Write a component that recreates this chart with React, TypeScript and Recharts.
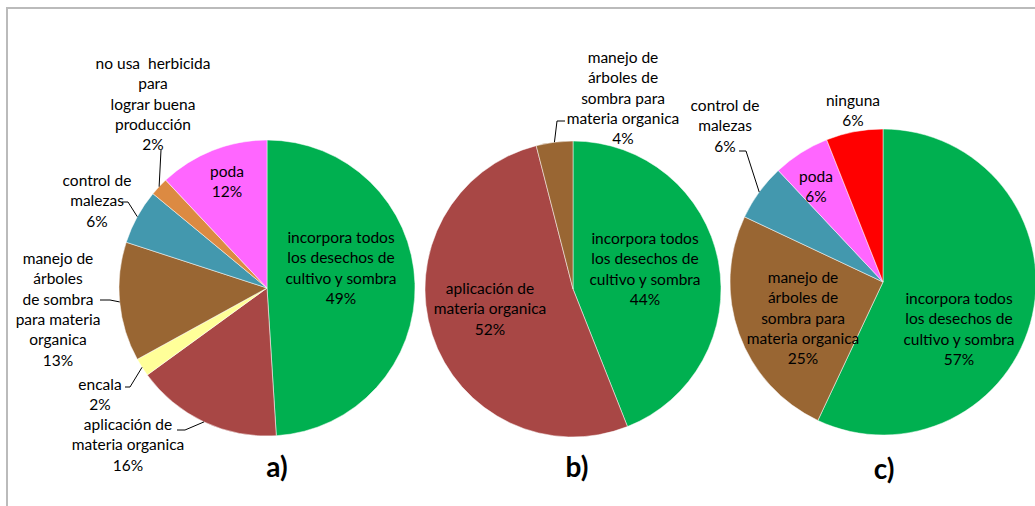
import React from 'react';
import { PieChart, Pie, Cell } from 'recharts';

// a) practicas (clockwise from 12 o'clock)
const catsA = [
  'incorpora todos los desechos de cultivo y sombra',
  'aplicación de materia organica',
  'encala',
  'manejo de árboles de sombra para materia organica',
  'control de malezas',
  'no usa herbicida para lograr buena producción',
  'poda',
];
const valuesA = [49, 16, 2, 13, 6, 2, 12];
const linesA = [
  ['incorpora todos', 'los desechos de', 'cultivo y sombra'],
  ['aplicación de', 'materia organica'],
  ['encala'],
  ['manejo de', 'árboles', 'de sombra', 'para materia', 'organica'],
  ['control de', 'malezas'],
  ['no usa  herbicida', 'para', 'lograr buena', 'producción'],
  ['poda'],
];

// b)
const catsB = [
  'incorpora todos los desechos de cultivo y sombra',
  'aplicación de materia organica',
  'manejo de árboles de sombra para materia organica',
];
const valuesB = [44, 52, 4];
const linesB = [
  ['incorpora todos', 'los desechos de', 'cultivo y sombra'],
  ['aplicación de', 'materia organica'],
  ['manejo de', 'árboles de', 'sombra para', 'materia organica'],
];

// c)
const catsC = [
  'incorpora todos los desechos de cultivo y sombra',
  'manejo de árboles de sombra para materia organica',
  'control de malezas',
  'poda',
  'ninguna',
];
const valuesC = [57, 25, 6, 6, 6];
const linesC = [
  ['incorpora todos', 'los desechos de', 'cultivo y sombra'],
  ['manejo de', 'árboles de', 'sombra para', 'materia organica'],
  ['control de', 'malezas'],
  ['poda'],
  ['ninguna'],
];

const colorsA = ['#00B050', '#A84745', '#FFFF99', '#996633', '#4398AE', '#DC8A42', '#FF66FF'];
const colorsB = ['#00B050', '#A84745', '#996633'];
const colorsC = ['#00B050', '#996633', '#4398AE', '#FF66FF', '#FF0000'];

type Layout = { dx: number; dy: number; leader?: number[][] };

// label placement relative to each pie's centre
const layoutA: Layout[] = [
  { dx: 74, dy: -50 },
  { dx: -139, dy: 137, leader: [[-90, 142], [-82, 142]] },
  { dx: -167, dy: 97, leader: [[-142, 99], [-137, 99]] },
  { dx: -209, dy: -29, leader: [[-167, 12], [-157, 12]] },
  { dx: -170, dy: -107, leader: [[-145, -86], [-139, -86]] },
  { dx: -114, dy: -224, leader: [[-106, -138]] },
  { dx: -40, dy: -116 },
];
const layoutB: Layout[] = [
  { dx: 72, dy: -50 },
  { dx: -83, dy: 0 },
  { dx: 50, dy: -231, leader: [[-8, -168], [-16, -168]] },
];
const layoutC: Layout[] = [
  { dx: 76, dy: 17 },
  { dx: -80, dy: -4 },
  { dx: -158, dy: -176, leader: [[-144, -131], [-137, -131]] },
  { dx: -67, dy: -105 },
  { dx: -30, dy: -181 },
];

const RAD = Math.PI / 180;
const FONT = 'Lato, "Noto Sans", sans-serif';
const LINE_H = 20.3;

const makeLabel = (lines: string[][], layout: Layout[]) => (props: any) => {
  const { cx, cy, midAngle, outerRadius, index, value } = props;
  const lay = layout[index];
  const txt = [...lines[index], `${value}%`];
  const x = cx + lay.dx;
  const y0 = cy + lay.dy;
  let leader = null;
  if (lay.leader) {
    const ex = cx + outerRadius * Math.cos(-midAngle * RAD);
    const ey = cy + outerRadius * Math.sin(-midAngle * RAD);
    const pts = lay.leader.map(([px, py]) => `${cx + px},${cy + py}`).concat(`${ex},${ey}`);
    leader = <polyline points={pts.join(' ')} fill="none" stroke="#000" strokeWidth={1} />;
  }
  return (
    <g key={`lbl-${index}`}>
      {leader}
      <text textAnchor="middle" fontFamily={FONT} fontSize={15.5} fontWeight={400} fill="#000">
        {txt.map((t, i) => (
          <tspan key={i} x={x} y={y0 + i * LINE_H + 5} style={{ whiteSpace: 'pre' }}>
            {t}
          </tspan>
        ))}
      </text>
    </g>
  );
};

const toData = (cats: string[], vals: number[]) => cats.map((name, i) => ({ name, value: vals[i] }));

const Title = ({ x, y, text }: { x: number; y: number; text: string }) => (
  <div
    style={{
      position: 'absolute',
      left: x - 30,
      top: y - 18,
      width: 60,
      textAlign: 'center',
      fontFamily: FONT,
      fontWeight: 'bold',
      fontSize: 28,
      lineHeight: '36px',
    }}
  >
    {text}
  </div>
);

export default function App() {
  return (
    <div style={{ position: 'absolute', left: 0, top: 0, width: 1035, height: 506, overflow: 'hidden', background: '#fff' }}>
      <div
        style={{
          position: 'absolute',
          left: 6,
          top: 7,
          width: 1100,
          height: 600,
          borderTop: '2px solid #BBBBBB',
          borderLeft: '2px solid #BBBBBB',
        }}
      />
      <div style={{ position: 'absolute', left: 0, top: 0 }}>
        <PieChart width={1035} height={506} margin={{ top: 0, right: 0, bottom: 0, left: 0 }}>
          <Pie
            data={toData(catsA, valuesA)}
            dataKey="value"
            cx={267}
            cy={288}
            outerRadius={148}
            startAngle={90}
            endAngle={-270}
            stroke="#ffffff"
            strokeWidth={0.5}
            labelLine={false}
            label={makeLabel(linesA, layoutA)}
            isAnimationActive={false}
          >
            {colorsA.map((c, i) => (
              <Cell key={i} fill={c} />
            ))}
          </Pie>
          <Pie
            data={toData(catsB, valuesB)}
            dataKey="value"
            cx={573}
            cy={289}
            outerRadius={148}
            startAngle={90}
            endAngle={-270}
            stroke="#ffffff"
            strokeWidth={0.5}
            labelLine={false}
            label={makeLabel(linesB, layoutB)}
            isAnimationActive={false}
          >
            {colorsB.map((c, i) => (
              <Cell key={i} fill={c} />
            ))}
          </Pie>
          <Pie
            data={toData(catsC, valuesC)}
            dataKey="value"
            cx={883}
            cy={282}
            outerRadius={153}
            startAngle={90}
            endAngle={-270}
            stroke="#ffffff"
            strokeWidth={0.5}
            labelLine={false}
            label={makeLabel(linesC, layoutC)}
            isAnimationActive={false}
          >
            {colorsC.map((c, i) => (
              <Cell key={i} fill={c} />
            ))}
          </Pie>
        </PieChart>
      </div>
      <Title x={277} y={466} text="a)" />
      <Title x={577} y={466} text="b)" />
      <Title x={884} y={468} text="c)" />
    </div>
  );
}
